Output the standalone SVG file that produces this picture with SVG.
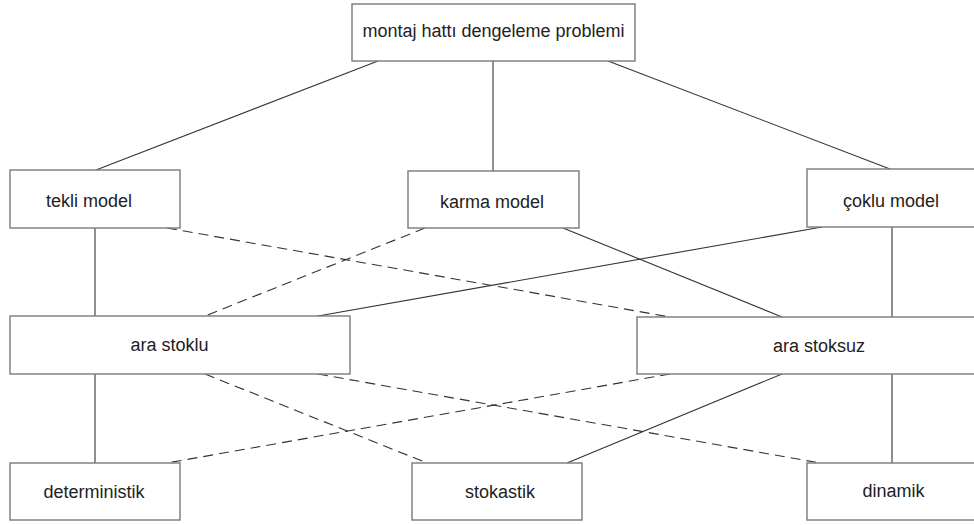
<svg xmlns="http://www.w3.org/2000/svg" width="974" height="525" viewBox="0 0 974 525">
  <style>
    .box { fill: #ffffff; stroke: #7a7a7a; stroke-width: 1.4; }
    .lbl { font-family: "Liberation Sans", Arial, sans-serif; font-size: 18px; fill: #222222; text-anchor: middle; }
    .solid { stroke: #333333; stroke-width: 1.1; fill: none; }
    .dash { stroke: #333333; stroke-width: 1.1; fill: none; stroke-dasharray: 10 6; }
  </style>
  <rect x="0" y="0" width="974" height="525" fill="#ffffff"/>

  <!-- connectors -->
  <g id="connectors">
    <line class="solid" x1="378" y1="61" x2="96" y2="170"/>
    <line class="solid" x1="493" y1="61" x2="493" y2="171"/>
    <line class="solid" x1="608" y1="61" x2="890" y2="169"/>

    <line class="solid" x1="95" y1="228" x2="95" y2="316"/>
    <line class="dash" x1="167" y1="228" x2="670" y2="317"/>
    <line class="dash" x1="425" y1="228" x2="205" y2="316"/>
    <line class="solid" x1="563" y1="228" x2="782" y2="317"/>
    <line class="solid" x1="822" y1="227" x2="318" y2="316"/>
    <line class="solid" x1="892" y1="227" x2="892" y2="317"/>

    <line class="solid" x1="95" y1="374" x2="95" y2="463"/>
    <line class="dash" x1="205" y1="374" x2="427" y2="463"/>
    <line class="dash" x1="318" y1="374" x2="820" y2="463"/>
    <line class="dash" x1="670" y1="374" x2="167" y2="463"/>
    <line class="solid" x1="782" y1="374" x2="567" y2="463"/>
    <line class="solid" x1="892" y1="374" x2="892" y2="463"/>
  </g>

  <!-- nodes -->
  <g id="root">
    <rect class="box" x="352" y="4" width="283" height="57"/>
    <text class="lbl" x="493.5" y="37">montaj hattı dengeleme problemi</text>
  </g>
  <g id="tekli">
    <rect class="box" x="10" y="170" width="170" height="58"/>
    <text class="lbl" x="89" y="207">tekli model</text>
  </g>
  <g id="karma">
    <rect class="box" x="408" y="171" width="171" height="57"/>
    <text class="lbl" x="492" y="208">karma model</text>
  </g>
  <g id="coklu">
    <rect class="box" x="807" y="169" width="172" height="58"/>
    <text class="lbl" x="891" y="207">çoklu model</text>
  </g>
  <g id="ara-stoklu">
    <rect class="box" x="10" y="316" width="340" height="58"/>
    <text class="lbl" x="169.5" y="351">ara stoklu</text>
  </g>
  <g id="ara-stoksuz">
    <rect class="box" x="637" y="317" width="342" height="57"/>
    <text class="lbl" x="819" y="352">ara stoksuz</text>
  </g>
  <g id="deterministik">
    <rect class="box" x="10" y="463" width="170" height="57"/>
    <text class="lbl" x="94" y="498">deterministik</text>
  </g>
  <g id="stokastik">
    <rect class="box" x="412" y="463" width="170" height="57"/>
    <text class="lbl" x="500" y="498">stokastik</text>
  </g>
  <g id="dinamik">
    <rect class="box" x="807" y="463" width="172" height="57"/>
    <text class="lbl" x="893.5" y="497">dinamik</text>
  </g>
</svg>
